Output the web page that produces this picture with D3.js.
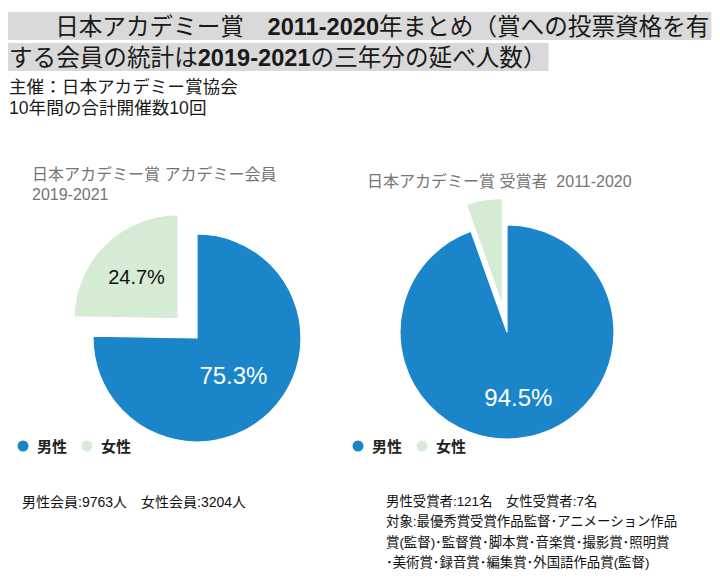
<!DOCTYPE html>
<html><head><meta charset="utf-8">
<script src="https://cdn.jsdelivr.net/npm/d3@7"></script>
<style>
body{margin:0;background:#fff;}
text{font-family:"Liberation Sans","Noto Sans CJK JP",sans-serif;}
</style></head>
<body><svg id="chart" width="720" height="585"></svg>
<script>
// ---- data ----
const categories = ["男性", "女性"];
const memberValues = [9763, 3204];      // アカデミー会員 2019-2021
const winnerValues = [121, 7];          // 受賞者 2011-2020
const colors = ["#1a85c9", "#d6ebd3"];
const titleLine1 = ["　　日本アカデミー賞　", "2011-2020", "年まとめ（賞への投票資格を有"];
const titleLine2 = ["する会員の統計は", "2019-2021", "の三年分の延べ人数）"];
const subLines = ["主催：日本アカデミー賞協会", "10年間の合計開催数10回"];
const pieTitles = [["日本アカデミー賞 アカデミー会員", "2019-2021"], ["日本アカデミー賞 受賞者\u00a0\u00a02011-2020"]];
const noteLeft = ["男性会員:9763人　女性会員:3204人"];
const noteRight = ["男性受賞者:121名　女性受賞者:7名", "対象:最優秀賞受賞作品監督･アニメーション作品", "賞(監督)･監督賞･脚本賞･音楽賞･撮影賞･照明賞", "･美術賞･録音賞･編集賞･外国語作品賞(監督)"];

const svg = d3.select("#chart");
svg.append("rect").attr("width",720).attr("height",585).attr("fill","#fff");

// ---- main title with grey background ----
function titleLine(parts, x, y, rectY, rectH){
  const g = svg.append("g");
  const bg = g.append("rect").attr("fill","#d9d9d9");
  const t = g.append("text").attr("x",x).attr("y",y).attr("font-size",23.6).attr("fill","#1a1a1a");
  parts.forEach((p,i)=>{
    t.append("tspan").text(p)
      .attr("font-weight", i===1 ? "bold" : "normal")
      .attr("font-family", i===1 ? "Liberation Sans" : "Noto Sans CJK JP");
  });
  const bb = t.node().getBBox();
  bg.attr("x",8).attr("y",rectY).attr("height",rectH).attr("width", bb.x + bb.width - 8 + 2);
}
titleLine(titleLine1, 8, 35, 12, 28);
titleLine(titleLine2, 9, 66, 43, 28);

svg.selectAll("text.sub").data(subLines).join("text").attr("class","sub")
  .attr("x",9).attr("y",(d,i)=>93+i*21).attr("font-size",17.6).attr("fill","#1a1a1a")
  .attr("font-family","Noto Sans CJK JP").text(d=>d);

// ---- pies ----
const fmt = d3.format(".1%");
const pie = d3.pie().sort(null).value(d=>d);
function drawPie(values, cfg){
  const g = svg.append("g").attr("transform",`translate(${cfg.cx},${cfg.cy})`);
  const total = d3.sum(values);
  const arcs = pie(values);
  const arc = d3.arc().innerRadius(0).outerRadius(cfg.r);
  const slice = g.selectAll("g.slice").data(arcs).join("g").attr("class","slice")
    .attr("transform",(d,i)=>{
      if(i!==1) return null;
      const a = (d.startAngle+d.endAngle)/2;
      return `translate(${Math.sin(a)*cfg.explode},${-Math.cos(a)*cfg.explode})`;
    });
  slice.append("path").attr("d",arc).attr("fill",(d,i)=>colors[i])
    .attr("stroke","#fff").attr("stroke-width",1.2).attr("stroke-linejoin","round");
  slice.filter(d=>d.value/total>0.1).append("text")
    .attr("transform",(d,i)=>{
      const a=(d.startAngle+d.endAngle)/2, rr=cfg.r*cfg.labelR[d.index];
      return `translate(${Math.sin(a)*rr},${-Math.cos(a)*rr})`;
    })
    .attr("text-anchor","middle").attr("dy","0.36em")
    .attr("font-family","Liberation Sans")
    .attr("font-size",d=>d.index===0?24:20)
    .attr("fill",d=>d.index===0?"#fff":"#111")
    .text(d=>fmt(d.value/total));

  // chart title
  svg.append("g").selectAll("text").data(cfg.title).join("text")
    .attr("x",cfg.tx).attr("y",(d,i)=>cfg.ty+i*20).attr("font-size",16).attr("fill","#757575")
    .text(d=>d);

  // legend
  const lg = svg.append("g").attr("transform",`translate(${cfg.lx},446)`);
  categories.forEach((c,i)=>{
    lg.append("circle").attr("cx",i*64).attr("cy",0).attr("r",5.5).attr("fill",colors[i]);
    lg.append("text").attr("x",i*64+14).attr("y",6).attr("font-size",15).attr("font-weight","bold")
      .attr("font-family","Noto Sans CJK JP").attr("fill","#222").text(c);
  });
}
drawPie(memberValues, {cx:197, cy:338, r:104, explode:27, labelR:[0.5,0.57], title:pieTitles[0], tx:32, ty:180, lx:23});
drawPie(winnerValues, {cx:507, cy:332, r:107, explode:27, labelR:[0.62,0.6], title:pieTitles[1], tx:367, ty:187, lx:358});

// ---- notes ----
function notes(lines, x, y, fs){
  svg.append("g").selectAll("text").data(lines).join("text")
    .attr("x",x).attr("y",(d,i)=>y+i*20.3).attr("font-size",fs).attr("fill","#111")
    .attr("font-family","Noto Sans CJK JP").text(d=>d);
}
notes(noteLeft, 22, 507, 14);
notes(noteRight, 386, 506, 13.4);
</script></body></html>
